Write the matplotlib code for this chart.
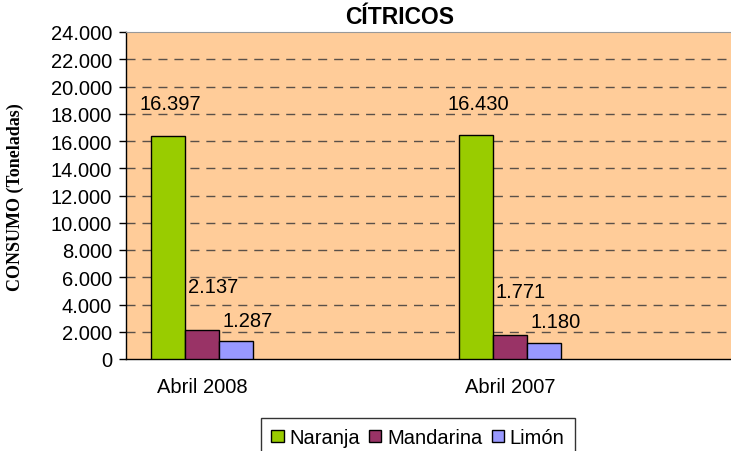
import matplotlib.pyplot as plt
import numpy as np

categories = ["Abril 2008", "Abril 2007"]
series = ["Naranja", "Mandarina", "Limón"]
naranja = [16397, 16430]
mandarina = [2137, 1771]
limon = [1287, 1180]
value_labels = [["16.397", "16.430"], ["2.137", "1.771"], ["1.287", "1.180"]]
yticks = list(range(0, 24001, 2000))
ytick_labels = ["0", "2.000", "4.000", "6.000", "8.000", "10.000", "12.000",
                "14.000", "16.000", "18.000", "20.000", "22.000", "24.000"]

colors = ["#99CC00", "#993366", "#9999FF"]
label_offsets = [(2, 32), (11, 43), (12, 21)]  # pixels from bar top

plt.rcParams["font.family"] = ["Liberation Sans", "DejaVu Sans"]
fs = 14.5

fig = plt.figure(figsize=(7.31, 4.52), dpi=100)
ax = fig.add_axes([126 / 731, 1 - 360 / 452, 1 - 126 / 731, (360 - 33) / 452])
ax.set_facecolor("#FFCC99")

x = np.arange(len(categories))
width = 0.1104
handles = []
for i, vals in enumerate([naranja, mandarina, limon]):
    pos = x + (i - 1) * width
    bars = ax.bar(pos, vals, width, color=colors[i], edgecolor="black",
                  linewidth=1, label=series[i], zorder=3)
    handles.append(bars)
    for p, v, txt in zip(pos, vals, value_labels[i]):
        ax.annotate(txt, (p, v), xytext=label_offsets[i], textcoords="offset pixels",
                    ha="center", va="center", fontsize=fs, zorder=4)

ax.set_xlim(-0.2468, 1.7175)
ax.set_ylim(0, 24000)
ax.set_yticks(yticks)
ax.set_yticklabels(ytick_labels, fontsize=fs)
ax.set_xticks(x)
ax.set_xticklabels(categories, fontsize=fs)
ax.tick_params(axis="x", length=0, pad=13)
ax.tick_params(axis="y", length=5, width=1, pad=5)

for yv in yticks[1:-1]:
    ax.axhline(yv, color="#5a5048", linewidth=1, linestyle=(0, (6.5, 5)), zorder=1)

ax.spines["right"].set_visible(False)
ax.spines["top"].set_color("#999999")
ax.spines["left"].set_linewidth(1)
ax.spines["bottom"].set_linewidth(1)

fig.text(15 / 731, 1 - 197 / 452, "CONSUMO (Toneladas)", family="Liberation Serif",
         fontweight="bold", fontsize=13, rotation=90, ha="center", va="center")

fig.text(400 / 731, 1 - 18 / 452, "CÍTRICOS", fontsize=16.5, fontweight="bold",
         ha="center", va="center")

leg = fig.legend(handles=handles, labels=series, loc="upper center",
                 bbox_to_anchor=(418 / 731, 1 - 419 / 452), ncol=3, fontsize=fs,
                 frameon=True, fancybox=False, edgecolor="black", borderaxespad=0,
                 handlelength=0.6, handleheight=0.6, handletextpad=0.3,
                 columnspacing=0.45, borderpad=0.5)
leg.get_frame().set_linewidth(1)

fig.savefig("out.png", dpi=100)
